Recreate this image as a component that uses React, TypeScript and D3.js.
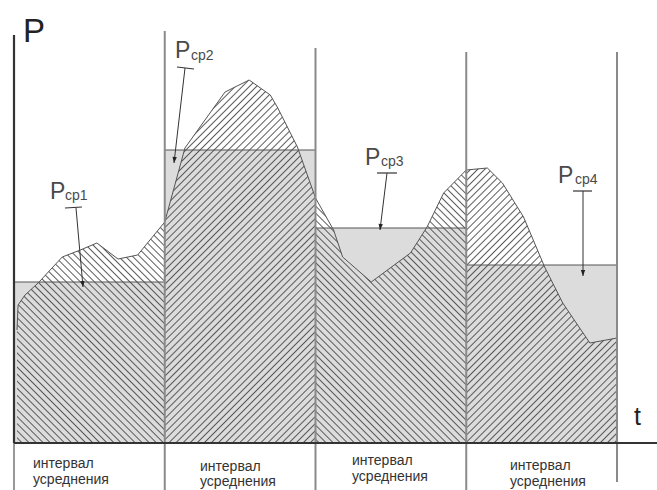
import React from "react";
import * as d3 from "d3";

// ---- data ----
const intervalBounds = [0, 1, 2, 3, 4];
const meanP = [161, 293, 215, 178];
const curveT = [0.02, 0.027, 0.073, 0.16, 0.24, 0.32, 0.44, 0.55, 0.69, 0.82, 1.0, 1.134, 1.3, 1.4, 1.56, 1.7, 1.75, 1.88, 2.0, 2.12, 2.18, 2.37, 2.63, 2.74, 2.85, 3.0, 3.14, 3.24, 3.38, 3.52, 3.64, 3.82, 4.0];
const curveP = [113, 138, 148, 160, 173, 186, 193, 200, 184, 188, 221, 295, 330, 351, 363, 348, 335, 296, 245, 213, 186, 161, 190, 216, 250, 273, 275, 260, 226, 176, 140, 100, 105];
const meanNames = ["ср1", "ср2", "ср3", "ср4"];
const intervalText = ["интервал", "усреднения"];
const axisY = "P";
const axisX = "t";

export default function App() {
  const W = 657, H = 490;
  const x = d3.scaleLinear().domain([0, 4]).range([14, 617]);
  const y = d3.scaleLinear().domain([0, 400]).range([443, 43]);
  const pts = curveT.map((t, i) => ({ t, p: curveP[i] }));
  const area = d3.area<{ t: number; p: number }>().x(d => x(d.t)).y0(y(0)).y1(d => y(d.p));
  const line = d3.line<{ t: number; p: number }>().x(d => x(d.t)).y(d => y(d.p));

  // annotation layout (pixels)
  const labels = [
    { px: 50, py: 199, sx: 65, sy: 200, bar: [65, 208, 82, 207], from: [76, 208], to: [83, 287] },
    { px: 175, py: 58, sx: 191, sy: 60, bar: [177, 67, 194, 69], from: [185, 68], to: [174, 163] },
    { px: 365, py: 165, sx: 381, sy: 166, bar: [377, 173, 397, 173], from: [387, 173], to: [380, 230] },
    { px: 558, py: 183, sx: 575, sy: 184, bar: [573, 191, 592, 191], from: [583, 191], to: [583, 276] },
  ];
  const sepTops = [31, 48, 52, 52];
  const sepBottoms = [490, 490, 490, 482];
  const textPos = [
    { x: 33, y: [468, 484] },
    { x: 200, y: [471, 486] },
    { x: 352, y: [465, 481] },
    { x: 510, y: [470, 486] },
  ];

  const arrow = (from: number[], to: number[]) => {
    const dx = to[0] - from[0], dy = to[1] - from[1];
    const L = Math.hypot(dx, dy);
    const ux = dx / L, uy = dy / L;
    const bx = to[0] - ux * 6, by = to[1] - uy * 6;
    const nx = -uy * 2.2, ny = ux * 2.2;
    return `M${to[0]},${to[1]}L${bx + nx},${by + ny}L${bx - nx},${by - ny}Z`;
  };

  return (
    <svg width={W} height={H} style={{ position: "absolute", left: 0, top: 0, background: "#fff" }}
      fontFamily="'Liberation Sans', Arial, sans-serif">
      <defs>
        <pattern id="hb" patternUnits="userSpaceOnUse" width={5} height={5} patternTransform="rotate(-45)">
          <line x1={2.5} y1={0} x2={2.5} y2={5} stroke="#4a4a4a" strokeWidth={0.9} />
        </pattern>
        <pattern id="hf" patternUnits="userSpaceOnUse" width={5} height={5} patternTransform="rotate(45)">
          <line x1={2.5} y1={0} x2={2.5} y2={5} stroke="#4a4a4a" strokeWidth={0.9} />
        </pattern>
        {meanP.map((_, i) => (
          <clipPath id={`clip${i}`} key={i}>
            <rect x={x(intervalBounds[i])} y={0} width={x(intervalBounds[i + 1]) - x(intervalBounds[i])} height={y(0)} />
          </clipPath>
        ))}
      </defs>
      <rect width={W} height={H} fill="#fff" />
      {meanP.map((m, i) => (
        <rect key={"m" + i} x={x(intervalBounds[i])} y={y(m)} width={x(intervalBounds[i + 1]) - x(intervalBounds[i])}
          height={y(0) - y(m)} fill="#dcdcdc" />
      ))}
      {meanP.map((_, i) => (
        <path key={"h" + i} d={area(pts) || ""} fill={`url(#${i % 2 === 0 ? "hb" : "hf"})`} clipPath={`url(#clip${i})`} />
      ))}
      <path d={line(pts) || ""} fill="none" stroke="#555" strokeWidth={1} />
      {meanP.map((m, i) => (
        <line key={"ml" + i} x1={x(intervalBounds[i])} x2={x(intervalBounds[i + 1])} y1={y(m)} y2={y(m)} stroke="#555" strokeWidth={1.2} />
      ))}
      {intervalBounds.slice(1).map((b, i) => (
        <line key={"s" + i} x1={x(b)} x2={x(b)} y1={sepTops[i]} y2={sepBottoms[i]} stroke="#8a8a8a" strokeWidth={2} />
      ))}
      <line x1={x(0)} x2={x(0)} y1={y(0)} y2={490} stroke="#999" strokeWidth={2} />
      <line x1={x(0)} x2={x(0)} y1={35} y2={y(0)} stroke="#333" strokeWidth={2.2} />
      <line x1={x(0)} x2={W} y1={y(0)} y2={y(0)} stroke="#333" strokeWidth={2} />
      <text x={23} y={42} fontSize={33} fill="#222">{axisY}</text>
      <text x={634} y={425} fontSize={25} fill="#222">{axisX}</text>
      {labels.map((l, i) => (
        <g key={"l" + i} fill="#4a4a4a" stroke="none">
          <text x={l.px} y={l.py} fontSize={23}>P</text>
          <text x={l.sx} y={l.sy} fontSize={14}>{meanNames[i]}</text>
          <line x1={l.bar[0]} y1={l.bar[1]} x2={l.bar[2]} y2={l.bar[3]} stroke="#333" strokeWidth={1.2} />
          <line x1={l.from[0]} y1={l.from[1]} x2={l.to[0]} y2={l.to[1]} stroke="#333" strokeWidth={1} />
          <path d={arrow(l.from, l.to)} fill="#222" />
        </g>
      ))}
      {textPos.map((tp, i) => (
        <g key={"t" + i} fill="#333" fontSize={14}>
          {intervalText.map((s, j) => (
            <text key={j} x={tp.x} y={tp.y[j]}>{s}</text>
          ))}
        </g>
      ))}
    </svg>
  );
}
